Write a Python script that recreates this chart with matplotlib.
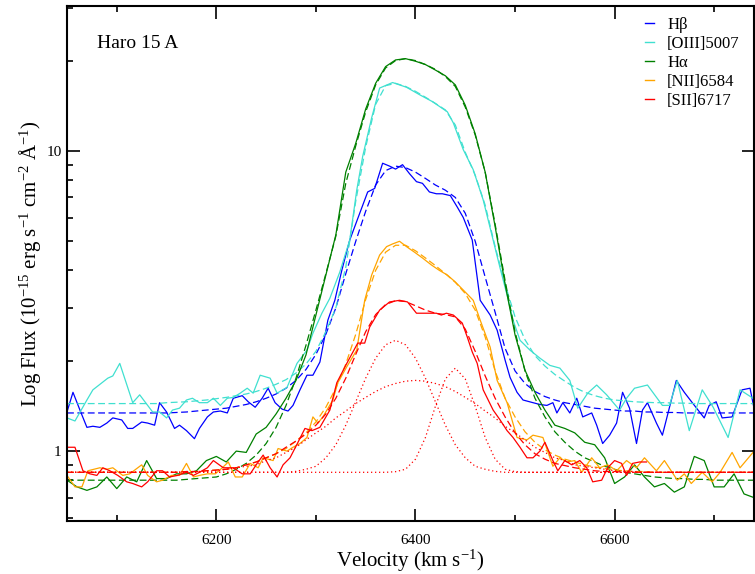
# Haro 15 A emission line profiles in velocity space
import numpy as np
import matplotlib
matplotlib.use('Agg')
import matplotlib.pyplot as plt
from matplotlib.lines import Line2D

plt.rcParams['font.family'] = ['Liberation Serif', 'DejaVu Serif']
plt.rcParams['mathtext.fontset'] = 'custom'
plt.rcParams['mathtext.rm'] = 'Liberation Serif'
plt.rcParams['mathtext.it'] = 'Liberation Serif:italic'

# observed spectra (velocity km/s, flux 1e-15 erg/s/cm2/A)
hb_vel = [6050, 6056, 6063, 6070, 6076, 6083, 6090, 6096, 6105, 6111, 6116, 6125, 6131, 6138, 6143,
          6150, 6158, 6163, 6170, 6178, 6183, 6191, 6197, 6204, 6211, 6217, 6226, 6232, 6239, 6246,
          6252, 6259, 6266, 6272, 6277, 6284, 6291, 6297, 6304, 6312, 6319, 6326, 6334, 6344, 6352,
          6359, 6367, 6374, 6380, 6387, 6394, 6401, 6407, 6414, 6421, 6427, 6435, 6442, 6448, 6457,
          6465, 6475, 6482, 6490, 6495, 6502, 6508, 6518, 6525, 6532, 6538, 6542, 6548, 6555, 6562,
          6568, 6577, 6582, 6588, 6595, 6602, 6608, 6615, 6622, 6628, 6633, 6642, 6648, 6662, 6670,
          6678, 6690, 6695, 6702, 6708, 6718, 6728, 6736, 6741]
hb_flux = [1.35, 1.57, 1.37, 1.20, 1.21, 1.20, 1.24, 1.29, 1.27, 1.19, 1.19, 1.25, 1.24, 1.22, 1.45,
           1.35, 1.19, 1.22, 1.17, 1.10, 1.19, 1.30, 1.35, 1.36, 1.34, 1.50, 1.53, 1.46, 1.40, 1.50,
           1.62, 1.45, 1.38, 1.36, 1.42, 1.60, 1.79, 1.79, 1.98, 2.73, 3.18, 4.0, 5.05, 6.2, 7.3,
           7.5, 9.1, 8.9, 8.7, 9.0, 8.4, 7.9, 7.8, 7.3, 7.2, 7.2, 7.1, 6.5, 6.0, 5.05,
           3.18, 2.84, 2.53, 2.01, 1.76, 1.57, 1.48, 1.45, 1.43, 1.42, 1.45, 1.34, 1.45, 1.34, 1.50,
           1.30, 1.34, 1.22, 1.06, 1.13, 1.24, 1.57, 1.39, 1.06, 1.37, 1.45, 1.24, 1.13, 1.72, 1.57,
           1.45, 1.29, 1.42, 1.46, 1.29, 1.30, 1.60, 1.62, 1.34]

oiii_vel = [6050, 6058, 6070, 6076, 6091, 6096, 6103, 6116, 6123, 6136, 6143, 6150, 6156, 6163, 6170,
            6176, 6183, 6191, 6197, 6204, 6211, 6217, 6224, 6231, 6237, 6244, 6254, 6261, 6271, 6281,
            6291, 6297, 6306, 6314, 6324, 6334, 6341, 6347, 6356, 6364, 6377, 6391, 6404, 6417, 6432,
            6438, 6448, 6458, 6468, 6478, 6485, 6492, 6498, 6505, 6515, 6525, 6535, 6545, 6555, 6563,
            6573, 6582, 6592, 6605, 6612, 6620, 6633, 6648, 6655, 6663, 6675, 6688, 6699, 6714, 6726,
            6739]
oiii_flux = [1.29, 1.26, 1.48, 1.60, 1.75, 1.78, 1.96, 1.45, 1.54, 1.35, 1.35, 1.29, 1.37, 1.39, 1.48,
             1.50, 1.45, 1.45, 1.50, 1.42, 1.50, 1.51, 1.56, 1.62, 1.56, 1.79, 1.75, 1.56, 1.63, 1.96,
             2.17, 2.47, 2.88, 3.23, 3.95, 5.05, 7.4, 9.6, 12.9, 16.2, 16.9, 16.3, 15.4, 14.6, 13.5,
             12.4, 10.1, 8.66, 6.87, 5.05, 4.07, 3.31, 2.73, 2.34, 2.17, 2.04, 1.93, 1.89, 1.72, 1.39,
             1.56, 1.66, 1.54, 1.37, 1.50, 1.62, 1.66, 1.42, 1.42, 1.72, 1.17, 1.60, 1.40, 1.11, 1.60,
             1.50]

nii_vel = [6050, 6058, 6065, 6071, 6083, 6090, 6096, 6106, 6113, 6125, 6131, 6140, 6146, 6155, 6163,
           6170, 6177, 6183, 6191, 6199, 6206, 6212, 6219, 6226, 6234, 6242, 6247, 6257, 6262, 6271,
           6277, 6284, 6291, 6297, 6302, 6307, 6317, 6322, 6331, 6341, 6349, 6356, 6364, 6371, 6377,
           6384, 6391, 6399, 6407, 6416, 6424, 6432, 6440, 6448, 6458, 6465, 6475, 6482, 6492, 6502,
           6512, 6518, 6528, 6538, 6545, 6552, 6560, 6567, 6577, 6585, 6593, 6602, 6612, 6622, 6630,
           6642, 6650, 6663, 6670, 6677, 6688, 6698, 6706, 6718, 6726, 6739]
nii_flux = [0.83, 0.76, 0.76, 0.86, 0.88, 0.87, 0.88, 0.83, 0.84, 0.90, 0.83, 0.79, 0.80, 0.83, 0.83,
            0.91, 0.82, 0.83, 0.84, 0.84, 0.88, 0.92, 0.82, 0.82, 0.91, 0.88, 0.95, 0.93, 1.02, 1.00,
            1.03, 1.06, 1.11, 1.30, 1.24, 1.30, 1.48, 1.69, 1.91, 2.17, 3.18, 3.86, 4.5, 4.8, 4.9,
            5.0, 4.8, 4.6, 4.4, 4.17, 4.0, 3.86, 3.66, 3.44, 3.18, 2.73, 2.22, 1.72, 1.45, 1.11,
            1.09, 1.13, 1.11, 0.89, 0.95, 0.92, 0.93, 0.85, 0.95, 0.88, 0.90, 0.86, 0.93, 0.88, 0.95,
            0.86, 0.93, 0.80, 0.84, 0.78, 0.85, 0.79, 0.85, 0.99, 0.88, 0.99]

sii_vel = [6050, 6058, 6066, 6073, 6080, 6086, 6093, 6101, 6110, 6116, 6125, 6131, 6140, 6146, 6153,
           6161, 6170, 6177, 6183, 6191, 6197, 6207, 6217, 6226, 6234, 6241, 6247, 6254, 6261, 6267,
           6274, 6282, 6289, 6296, 6304, 6314, 6321, 6331, 6342, 6349, 6354, 6364, 6374, 6384, 6392,
           6401, 6411, 6421, 6426, 6431, 6438, 6447, 6452, 6457, 6462, 6468, 6478, 6485, 6492, 6498,
           6505, 6512, 6518, 6525, 6530, 6538, 6543, 6550, 6557, 6565, 6572, 6578, 6587, 6593, 6600,
           6607, 6612, 6618, 6625, 6632]
sii_flux = [1.03, 1.03, 0.86, 0.84, 0.83, 0.88, 0.86, 0.83, 0.79, 0.78, 0.76, 0.79, 0.86, 0.86, 0.82,
            0.83, 0.85, 0.83, 0.85, 0.88, 0.93, 0.88, 0.88, 0.84, 0.84, 0.91, 0.97, 0.88, 0.82, 0.90,
            0.95, 1.07, 1.19, 1.17, 1.20, 1.37, 1.69, 1.96, 2.29, 2.29, 2.59, 2.95, 3.14, 3.18, 3.14,
            2.88, 2.88, 2.88, 2.84, 2.88, 2.84, 2.67, 2.40, 2.14, 1.96, 1.60, 1.37, 1.27, 1.17, 1.11,
            1.03, 0.95, 0.95, 1.00, 1.07, 0.93, 0.86, 0.93, 0.90, 0.93, 0.88, 0.79, 0.80, 0.88, 0.93,
            0.91, 0.83, 0.91, 0.92, 0.92]

# H-alpha and the fits share a 10 km/s grid
grid = np.arange(6050, 6750, 10)
ha_flux = [0.80, 0.76, 0.74, 0.76, 0.82, 0.75, 0.82, 0.79, 0.93, 0.81,
           0.81, 0.84, 0.84, 0.86, 0.93, 0.96, 0.92, 1.00, 0.99, 1.14,
           1.20, 1.33, 1.50, 1.72, 2.09, 2.84, 3.86, 5.25, 8.5, 10.6,
           13.8, 16.8, 19.1, 20.1, 20.3, 19.9, 19.4, 18.6, 17.8, 16.6,
           14.2, 11.4, 8.5, 5.6, 3.6, 2.44, 1.86, 1.57, 1.37, 1.22,
           1.19, 1.15, 1.07, 1.05, 0.95, 0.78, 0.82, 0.90, 0.82, 0.76,
           0.78, 0.73, 0.76, 0.96, 0.93, 0.76, 0.76, 0.84, 0.72, 0.70]

hb_fit = [1.34, 1.34, 1.34, 1.34, 1.34, 1.34, 1.34, 1.34, 1.34, 1.34,
          1.34, 1.345, 1.35, 1.36, 1.37, 1.38, 1.39, 1.41, 1.43, 1.46,
          1.50, 1.55, 1.62, 1.72, 1.87, 2.1, 2.45, 3.0, 3.9, 5.0,
          6.3, 7.7, 8.6, 8.9, 8.8, 8.5, 8.1, 7.7, 7.4, 7.0,
          6.2, 5.0, 3.8, 2.9, 2.2, 1.85, 1.68, 1.58, 1.52, 1.48,
          1.45, 1.43, 1.41, 1.39, 1.38, 1.37, 1.36, 1.36, 1.35, 1.35,
          1.345, 1.345, 1.34, 1.34, 1.34, 1.34, 1.34, 1.34, 1.34, 1.34]
oiii_fit = [1.44, 1.44, 1.44, 1.44, 1.44, 1.44, 1.44, 1.44, 1.44, 1.44,
            1.45, 1.455, 1.46, 1.47, 1.48, 1.495, 1.51, 1.53, 1.55, 1.58,
            1.62, 1.67, 1.73, 1.82, 1.95, 2.15, 2.5, 3.0, 4.1, 6.8,
            10.3, 14.3, 16.5, 16.8, 16.4, 15.8, 15.1, 14.4, 13.7, 12.2,
            9.9, 8.3, 6.6, 4.8, 3.6, 2.8, 2.35, 2.08, 1.92, 1.80,
            1.71, 1.63, 1.57, 1.53, 1.50, 1.48, 1.47, 1.46, 1.455, 1.45,
            1.45, 1.445, 1.445, 1.44, 1.44, 1.44, 1.44, 1.44, 1.44, 1.44]
ha_fit = [0.80, 0.80, 0.80, 0.80, 0.80, 0.80, 0.80, 0.80, 0.80, 0.80,
          0.80, 0.80, 0.805, 0.81, 0.815, 0.82, 0.84, 0.87, 0.91, 0.97,
          1.06, 1.2, 1.42, 1.75, 2.25, 2.95, 3.9, 5.2, 7.8, 10.4,
          13.5, 16.6, 18.9, 20.0, 20.3, 20.0, 19.4, 18.7, 17.7, 16.4,
          14.0, 11.3, 8.5, 5.7, 3.7, 2.5, 1.85, 1.5, 1.3, 1.16,
          1.07, 1.0, 0.95, 0.92, 0.89, 0.87, 0.85, 0.84, 0.83, 0.82,
          0.815, 0.81, 0.81, 0.805, 0.805, 0.80, 0.80, 0.80, 0.80, 0.80]
nii_fit = [0.85, 0.85, 0.85, 0.85, 0.85, 0.85, 0.85, 0.85, 0.85, 0.85,
           0.85, 0.85, 0.855, 0.855, 0.86, 0.865, 0.87, 0.88, 0.90, 0.92,
           0.95, 0.98, 1.02, 1.08, 1.15, 1.25, 1.40, 1.62, 1.95, 2.45,
           3.2, 4.0, 4.6, 4.85, 4.85, 4.65, 4.4, 4.15, 3.9, 3.65,
           3.35, 2.95, 2.4, 1.85, 1.5, 1.3, 1.16, 1.07, 1.01, 0.97,
           0.94, 0.92, 0.90, 0.885, 0.875, 0.865, 0.86, 0.855, 0.855, 0.85,
           0.85, 0.85, 0.85, 0.85, 0.85, 0.85, 0.85, 0.85, 0.85, 0.85]
sii_fit = [0.85, 0.85, 0.85, 0.85, 0.85, 0.85, 0.85, 0.85, 0.85, 0.85,
           0.85, 0.85, 0.855, 0.855, 0.86, 0.865, 0.87, 0.88, 0.90, 0.92,
           0.95, 0.98, 1.03, 1.08, 1.14, 1.22, 1.33, 1.5, 1.75, 2.1,
           2.5, 2.85, 3.08, 3.17, 3.15, 3.05, 2.95, 2.88, 2.85, 2.8,
           2.55, 2.15, 1.78, 1.5, 1.3, 1.15, 1.05, 0.98, 0.94, 0.91,
           0.895, 0.88, 0.87, 0.86, 0.855, 0.855, 0.85, 0.85, 0.85, 0.85,
           0.85, 0.85, 0.85, 0.85, 0.85, 0.85, 0.85, 0.85, 0.85, 0.85]

# [SII] gaussian components (incl. continuum)
sii_broad = [0.85, 0.85, 0.85, 0.85, 0.85, 0.85, 0.85, 0.85, 0.85, 0.85,
             0.85, 0.85, 0.85, 0.855, 0.857, 0.86, 0.87, 0.88, 0.89, 0.90,
             0.93, 0.95, 0.99, 1.03, 1.09, 1.15, 1.21, 1.29, 1.36, 1.44,
             1.51, 1.58, 1.64, 1.68, 1.71, 1.72, 1.71, 1.68, 1.64, 1.58,
             1.51, 1.44, 1.36, 1.29, 1.21, 1.15, 1.09, 1.03, 0.99, 0.95,
             0.93, 0.90, 0.89, 0.88, 0.87, 0.86, 0.857, 0.855, 0.85, 0.85,
             0.85, 0.85, 0.85, 0.85, 0.85, 0.85, 0.85, 0.85, 0.85, 0.85]
sii_narrow1 = [0.85, 0.85, 0.85, 0.85, 0.85, 0.85, 0.85, 0.85, 0.85, 0.85,
               0.85, 0.85, 0.85, 0.85, 0.85, 0.85, 0.85, 0.85, 0.85, 0.85,
               0.85, 0.85, 0.85, 0.856, 0.87, 0.89, 0.95, 1.05, 1.22, 1.46,
               1.75, 2.04, 2.26, 2.34, 2.26, 2.04, 1.75, 1.46, 1.22, 1.05,
               0.95, 0.89, 0.87, 0.856, 0.85, 0.85, 0.85, 0.85, 0.85, 0.85,
               0.85, 0.85, 0.85, 0.85, 0.85, 0.85, 0.85, 0.85, 0.85, 0.85,
               0.85, 0.85, 0.85, 0.85, 0.85, 0.85, 0.85, 0.85, 0.85, 0.85]
sii_narrow2 = [0.85, 0.85, 0.85, 0.85, 0.85, 0.85, 0.85, 0.85, 0.85, 0.85,
               0.85, 0.85, 0.85, 0.85, 0.85, 0.85, 0.85, 0.85, 0.85, 0.85,
               0.85, 0.85, 0.85, 0.85, 0.85, 0.85, 0.85, 0.85, 0.85, 0.85,
               0.85, 0.85, 0.85, 0.854, 0.87, 0.94, 1.11, 1.41, 1.74, 1.89,
               1.74, 1.41, 1.11, 0.94, 0.87, 0.854, 0.85, 0.85, 0.85, 0.85,
               0.85, 0.85, 0.85, 0.85, 0.85, 0.85, 0.85, 0.85, 0.85, 0.85,
               0.85, 0.85, 0.85, 0.85, 0.85, 0.85, 0.85, 0.85, 0.85, 0.85]

labels = ['H\u03b2', '[OIII]5007', 'H\u03b1', '[NII]6584', '[SII]6717']
colors = ['#0000ff', '#40e0d0', '#008000', '#ffa500', '#ff0000']

fig = plt.figure(figsize=(7.55, 5.74), dpi=100)
ax = fig.add_axes([67/755, 53/574, 687/755, 515/574])

lw = 0.9
dash = (0, (5.5, 2.8))
obs = [(hb_vel, hb_flux), (oiii_vel, oiii_flux), (grid, ha_flux), (nii_vel, nii_flux), (sii_vel, sii_flux)]
fits = [hb_fit, oiii_fit, ha_fit, nii_fit, sii_fit]
for (v, f), fit, c in zip(obs, fits, colors):
    ax.plot(v, f, color=c, lw=lw)
    ax.plot(grid, fit, color=c, lw=lw, linestyle=dash)

for comp in [sii_broad, sii_narrow1, sii_narrow2]:
    ax.plot(grid, comp, color='#ff0000', lw=0.9, linestyle=(0, (1, 2.2)))

ax.set_yscale('log')
ax.set_xlim(6050, 6740)
ax.set_ylim(0.585, 30.4)

ax.set_xticks([6200, 6400, 6600])
ax.set_xticks(np.arange(6100, 6740, 100), minor=True)
ax.set_yticks([1, 10])
ax.set_yticklabels(['1', '10'])
ax.yaxis.set_minor_locator(matplotlib.ticker.LogLocator(base=10, subs=np.arange(2, 10)))
ax.yaxis.set_minor_formatter(matplotlib.ticker.NullFormatter())

ax.tick_params(which='both', direction='in', top=True, right=True, width=1.2, labelsize=11)
ax.tick_params(which='major', length=9)
ax.tick_params(which='minor', length=4.5)
ax.tick_params(axis='y', which='minor', right=False)
ax.tick_params(axis='x', pad=9)
ax.tick_params(axis='y', pad=4)
for s in ax.spines.values():
    s.set_linewidth(1.5)

ax.set_xlabel('Velocity (km s$^{-1}$)', fontsize=15, labelpad=1)
ax.set_ylabel('Log Flux (10$^{-15}$ erg s$^{-1}$ cm$^{-2}$ \u00c5$^{-1}$)', fontsize=15, labelpad=2)

ax.text(0.044, 0.928, 'Haro 15 A', transform=ax.transAxes, fontsize=14, va='center', ha='left')

handles = [Line2D([], [], color=c, lw=1.0) for c in colors]
ax.legend(handles, labels, loc='upper left', bbox_to_anchor=(0.842, 0.978), frameon=False,
          fontsize=12, handlelength=0.5, handletextpad=0.8, labelspacing=0.18,
          borderpad=0, borderaxespad=0)

fig.savefig('out.png', dpi=100)
